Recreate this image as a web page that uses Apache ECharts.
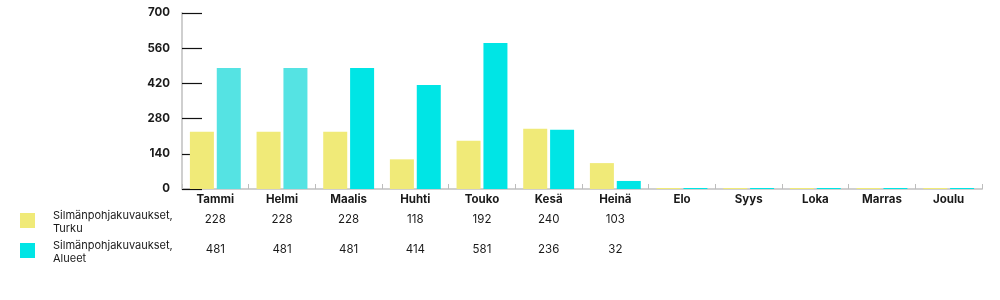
<!DOCTYPE html>
<html>
<head>
<meta charset="utf-8">
<script src="https://cdn.jsdelivr.net/npm/echarts@6/dist/echarts.min.js"></script>
<style>
  html, body { margin: 0; padding: 0; background: #fff; }
  #chart { width: 1000px; height: 300px; }
</style>
</head>
<body>
<div id="chart"></div>
<script>
// Kuukaudet ja sarjojen arvot
const months = ['Tammi', 'Helmi', 'Maalis', 'Huhti', 'Touko', 'Kesä', 'Heinä', 'Elo', 'Syys', 'Loka', 'Marras', 'Joulu'];
const turku = [228, 228, 228, 118, 192, 240, 103, 0, 0, 0, 0, 0];
const alueet = [481, 481, 481, 414, 581, 236, 32, 0, 0, 0, 0, 0];
const seriesNames = ['Silmänpohjakuvaukset,\nTurku', 'Silmänpohjakuvaukset,\nAlueet'];
const yTicks = [0, 140, 280, 420, 560, 700];

const COLOR_TURKU = '#f0ea78';
const COLOR_ALUEET = '#00e5e5';
const COLOR_ALUEET_LIGHT = '#55e3e3';
const FONT = 'Inter, "Open Sans", sans-serif';

const chart = echarts.init(document.getElementById('chart'), null, { renderer: 'canvas' });

const alueetData = alueet.map((v, i) => i < 2 ? { value: v, itemStyle: { color: COLOR_ALUEET_LIGHT } } : v);

chart.setOption({
  animation: false,
  grid: { left: 182, right: 18, top: 13, bottom: 111, containLabel: false },
  xAxis: {
    type: 'category',
    data: months,
    axisLine: { lineStyle: { color: '#cfcfcf', width: 2 } },
    axisTick: { show: true, inside: true, length: 5, lineStyle: { color: '#bdbdbd' } },
    axisLabel: { color: '#1a1a1a', fontFamily: FONT, fontWeight: 700, fontSize: 11.5, margin: 5 }
  },
  yAxis: {
    type: 'value',
    min: yTicks[0],
    max: yTicks[yTicks.length - 1],
    interval: yTicks[1] - yTicks[0],
    axisLine: { show: true, lineStyle: { color: '#cfcfcf', width: 2 } },
    axisTick: { show: true, inside: true, length: 20, lineStyle: { color: '#111', width: 1.2 } },
    splitLine: { show: false },
    axisLabel: { color: '#1a1a1a', fontFamily: FONT, fontWeight: 700, fontSize: 11.5, margin: 12 }
  },
  series: [
    { name: seriesNames[0], type: 'bar', data: turku, barWidth: 24, barGap: '12%', barMinHeight: 1,
      itemStyle: { color: COLOR_TURKU }, z: 3 },
    { name: seriesNames[1], type: 'bar', data: alueetData, barWidth: 24, barGap: '12%', barMinHeight: 1,
      itemStyle: { color: COLOR_ALUEET }, z: 3 }
  ]
});

// Taulukko kaavion alla: selitteet ja arvot kuukausittain
const rows = [
  { name: seriesNames[0], color: COLOR_TURKU, values: turku, y: 219 },
  { name: seriesNames[1], color: COLOR_ALUEET, values: alueet, y: 249 }
];
const graphics = [];
rows.forEach(row => {
  graphics.push({
    type: 'rect', left: 20, top: row.y - 6, shape: { width: 15, height: 15 },
    style: { fill: row.color }
  });
  graphics.push({
    type: 'text', left: 53, top: row.y - 10,
    style: { text: row.name, fill: '#1a1a1a', font: '11px ' + FONT, lineHeight: 13 }
  });
  row.values.forEach((v, i) => {
    if (!v) return;
    const x = chart.convertToPixel({ xAxisIndex: 0 }, months[i]);
    graphics.push({
      type: 'text', x: x, y: row.y + 1,
      style: { text: String(v), fill: '#1a1a1a', font: '11.5px ' + FONT, align: 'center', verticalAlign: 'middle' }
    });
  });
});
chart.setOption({ graphic: graphics });
</script>
</body>
</html>
